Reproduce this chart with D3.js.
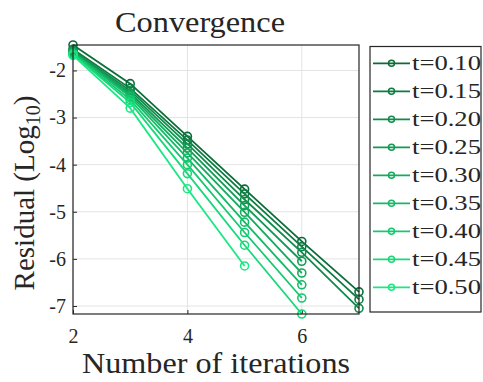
<!DOCTYPE html>
<html>
<head>
<meta charset="utf-8">
<script src="https://cdn.jsdelivr.net/npm/d3@7"></script>
<style>
html,body{margin:0;padding:0;background:#fff;}
svg{display:block;}
text{font-family:"Liberation Serif","DejaVu Serif",serif;fill:#262626;}
</style>
</head>
<body>
<svg id="chart" width="483" height="382"></svg>
<script>
// ---- data ----
const iterations = [2, 3, 4, 5, 6, 7];
const seriesLabels = ["t=0.10","t=0.15","t=0.20","t=0.25","t=0.30","t=0.35","t=0.40","t=0.45","t=0.50"];
const t010 = [-1.46, -2.28, -3.40, -4.52, -5.63, -6.70];
const t015 = [-1.55, -2.38, -3.48, -4.62, -5.74, -6.86];
const t020 = [-1.58, -2.43, -3.56, -4.74, -5.86, -7.05];
const t025 = [-1.60, -2.48, -3.65, -4.87, -6.05];
const t030 = [-1.62, -2.52, -3.75, -5.01, -6.30];
const t035 = [-1.63, -2.56, -3.86, -5.22, -6.55];
const t040 = [-1.65, -2.62, -4.00, -5.44, -6.83];
const t045 = [-1.66, -2.68, -4.19, -5.71, -7.17];
const t050 = [-1.68, -2.80, -4.51, -6.15];
const seriesValues = [t010, t015, t020, t025, t030, t035, t040, t045, t050];
const xTicks = [2, 4, 6];
const xTickLabels = ["2", "4", "6"];
const yTicks = [-2, -3, -4, -5, -6, -7];
const yTickLabels = ["-2", "-3", "-4", "-5", "-6", "-7"];

// ---- layout ----
const svg = d3.select("#chart");
const L = 73, R = 359, T = 45, B = 314;
const allVals = seriesValues.flat();
const x = d3.scaleLinear().domain([2, 7]).range([L, R]);
const y = d3.scaleLinear().domain(d3.extent(allVals)).range([B, T]);
const color = d3.scaleLinear().domain([0, seriesLabels.length - 1])
  .range(["#0b6d37", "#1ae883"]).interpolate(d3.interpolateRgb);

// grid
const g = svg.append("g");
g.selectAll(".gx").data(xTicks).join("line")
  .attr("x1", d => x(d)).attr("x2", d => x(d)).attr("y1", T).attr("y2", B)
  .attr("stroke", "#e3e3e3").attr("stroke-width", 1);
g.selectAll(".gy").data(yTicks).join("line")
  .attr("x1", L).attr("x2", R).attr("y1", d => y(d)).attr("y2", d => y(d))
  .attr("stroke", "#e3e3e3").attr("stroke-width", 1);

// axes via d3 axis
const xAxis = d3.axisBottom(x).tickValues(xTicks).tickFormat((d, i) => xTickLabels[i])
  .tickSizeInner(-4).tickSizeOuter(0).tickPadding(15);
const gx = svg.append("g").attr("transform", `translate(0,${B})`).call(xAxis);
gx.select(".domain").remove();
gx.selectAll("line").attr("stroke", "#262626");
gx.selectAll("text").attr("font-size", 20).attr("font-family", "Liberation Serif").attr("fill", "#262626");

const yAxis = d3.axisLeft(y).tickValues(yTicks).tickFormat((d, i) => yTickLabels[i])
  .tickSizeInner(-4).tickSizeOuter(0).tickPadding(7);
const gy = svg.append("g").attr("transform", `translate(${L},0)`).call(yAxis);
gy.select(".domain").remove();
gy.selectAll("line").attr("stroke", "#262626");
gy.selectAll("text").attr("font-size", 20).attr("font-family", "Liberation Serif").attr("fill", "#262626");

// series
const line = d3.line().x((d, i) => x(iterations[i])).y(d => y(d));
seriesValues.forEach((vals, si) => {
  const c = color(si);
  svg.append("path").datum(vals).attr("d", line)
    .attr("fill", "none").attr("stroke", c).attr("stroke-width", 1.8);
  svg.selectAll(null).data(vals).join("circle")
    .attr("cx", (d, i) => x(iterations[i])).attr("cy", d => y(d)).attr("r", 4)
    .attr("fill", "none").attr("stroke", c).attr("stroke-width", 1.6);
});

// box
svg.append("rect").attr("x", L).attr("y", T).attr("width", R - L).attr("height", B - T)
  .attr("fill", "none").attr("stroke", "#262626").attr("stroke-width", 1.2);

// title & labels
svg.append("text").attr("x", 200).attr("y", 32).attr("text-anchor", "middle")
  .attr("font-size", 30).attr("textLength", 170).attr("lengthAdjust", "spacingAndGlyphs")
  .text("Convergence");
svg.append("text").attr("x", 216).attr("y", 373).attr("text-anchor", "middle")
  .attr("font-size", 29).attr("textLength", 268).attr("lengthAdjust", "spacingAndGlyphs")
  .text("Number of iterations");
const yl = svg.append("text").attr("transform", "translate(34,193) rotate(-90)")
  .attr("text-anchor", "middle").attr("font-size", 29);
yl.append("tspan").text("Residual (Log");
yl.append("tspan").attr("font-size", 20).attr("dy", 6).text("10");
yl.append("tspan").attr("dy", -6).text(")");

// legend
const lg = svg.append("g");
lg.append("rect").attr("x", 370).attr("y", 46.5).attr("width", 111).attr("height", 265.5)
  .attr("fill", "#fff").attr("stroke", "#262626").attr("stroke-width", 1.2);
seriesLabels.forEach((lab, i) => {
  const cy = 63.3 + i * 28;
  const c = color(i);
  lg.append("line").attr("x1", 373).attr("x2", 410).attr("y1", cy).attr("y2", cy)
    .attr("stroke", c).attr("stroke-width", 1.8);
  lg.append("circle").attr("cx", 391.5).attr("cy", cy).attr("r", 3)
    .attr("fill", "none").attr("stroke", c).attr("stroke-width", 1.5);
  lg.append("text").attr("x", 412).attr("y", cy + 7).attr("font-size", 21)
    .attr("textLength", 69).attr("lengthAdjust", "spacingAndGlyphs").text(lab);
});
</script>
</body>
</html>
